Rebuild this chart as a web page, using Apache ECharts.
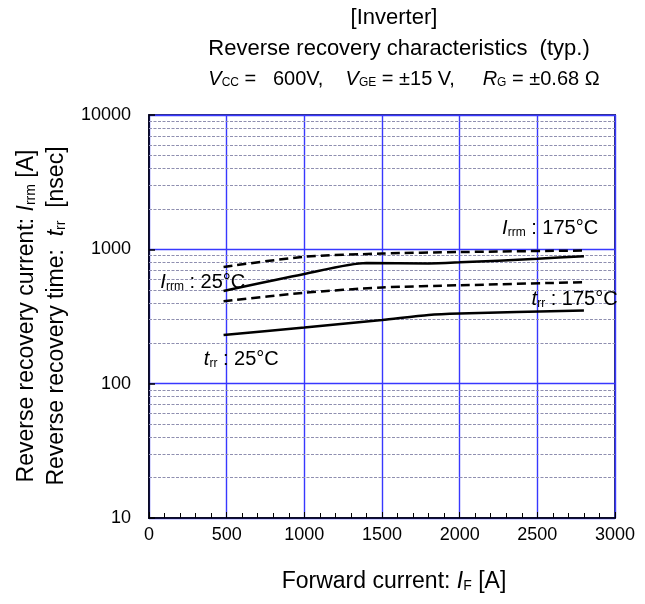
<!DOCTYPE html>
<html><head><meta charset="utf-8">
<script src="https://cdn.jsdelivr.net/npm/echarts@6/dist/echarts.min.js"></script>
<style>html,body{margin:0;padding:0;background:#fff}#c{width:645px;height:604px}</style>
</head><body><div id="c"></div>
<script>
// ---- data ----
const xTickLabels = [0, 500, 1000, 1500, 2000, 2500, 3000];
const yTickLabels = [10, 100, 1000, 10000];
const minorGridValues = [20,30,40,50,60,70,80,90,200,300,400,500,600,700,800,900,2000,3000,4000,5000,6000,7000,8000,9000];

const irrm175X = [480, 1000, 1500, 2000, 2800];
const irrm175Y = [740, 880, 930, 955, 980];
const irrm25X  = [480, 1000, 1400, 1800, 2000, 2500, 2800];
const irrm25Y  = [490, 655, 790, 785, 800, 850, 890];
const trr175X  = [480, 1000, 1500, 2000, 2800];
const trr175Y  = [410, 475, 520, 540, 570];
const trr25X   = [480, 1000, 1500, 1800, 2000, 2800];
const trr25Y   = [230, 262, 298, 325, 333, 350];

const labelIrrm175 = [2270, 1480];
const labelIrrm25  = [70, 588];
const labelTrr175  = [2460, 440];
const labelTrr25   = [350, 156];

// ---- chart ----
const FONT = '"Liberation Sans", Arial, sans-serif';
const zip = (xs, ys) => xs.map((x, i) => [x, ys[i]]);
const chart = echarts.init(document.getElementById('c'), null, {renderer: 'canvas'});

function rich(size) {
  return {
    n: {fontFamily: FONT, fontSize: size, color: '#000', lineHeight: size + 4, verticalAlign: 'bottom'},
    i: {fontFamily: FONT, fontSize: size, color: '#000', fontStyle: 'italic', lineHeight: size + 4, verticalAlign: 'bottom'},
    s: {fontFamily: FONT, fontSize: Math.round(size * 0.62), color: '#000', lineHeight: size, verticalAlign: 'bottom'}
  };
}
const richAxis = rich(23);
const richAnn = rich(20);

function annot(coord, text) {
  return {
    coord: coord, symbol: 'circle', symbolSize: 1,
    itemStyle: {color: 'rgba(0,0,0,0)'},
    label: {show: true, position: 'right', distance: 0, formatter: text, rich: richAnn}
  };
}

const lineBase = (data, dashed) => ({
  type: 'line', data: data, symbol: 'none', smooth: 0.25, silent: true,
  lineStyle: {color: '#000', width: 2.5, type: dashed ? [9, 5] : 'solid'}, z: 5
});

const option = {
  animation: false,
  backgroundColor: '#fff',
  grid: {left: 149, right: 30, top: 115, bottom: 86, show: true, borderColor: '#2e2e7a', borderWidth: 2},
  xAxis: {
    type: 'value', min: 0, max: 3000, interval: 500,
    axisLine: {show: true, lineStyle: {color: '#000', width: 1.5}},
    axisTick: {show: true, inside: true, length: 6, lineStyle: {color: '#000'}},
    minorTick: {show: true, splitNumber: 5, length: 5, lineStyle: {color: '#000'}},
    splitLine: {show: true, lineStyle: {color: '#3838ff', width: 1.4}},
    axisLabel: {fontFamily: FONT, fontSize: 18, color: '#000', margin: 8,
      formatter: v => xTickLabels.includes(v) ? String(v) : ''}
  },
  yAxis: {
    type: 'log', logBase: 10, min: 10, max: 10000,
    axisLine: {show: true, lineStyle: {color: '#000', width: 1.5}},
    axisTick: {show: true, inside: true, length: 6, lineStyle: {color: '#000', width: 1.5}},
    splitLine: {show: true, lineStyle: {color: '#3838ff', width: 1.4}},
    axisLabel: {fontFamily: FONT, fontSize: 18, color: '#000', margin: 18,
      formatter: v => yTickLabels.includes(Math.round(v)) ? String(Math.round(v)) : ''}
  },
  series: [
    {
      type: 'line', data: [], silent: true, z: 1,
      markLine: {
        silent: true, symbol: 'none', label: {show: false},
        lineStyle: {color: '#8f8fb0', width: 1.2, type: [3, 1.5]},
        data: minorGridValues.map(v => ({yAxis: v}))
      }
    },
    Object.assign(lineBase(zip(irrm175X, irrm175Y), true), {
      markPoint: {silent: true, data: [annot(labelIrrm175, '{i|I}{s|rrm}{n| : 175°C}')]}
    }),
    Object.assign(lineBase(zip(irrm25X, irrm25Y), false), {
      markPoint: {silent: true, data: [annot(labelIrrm25, '{i|I}{s|rrm}{n| : 25°C}')]}
    }),
    Object.assign(lineBase(zip(trr175X, trr175Y), true), {
      markPoint: {silent: true, data: [annot(labelTrr175, '{i|t}{s|rr}{n| : 175°C}')]}
    }),
    Object.assign(lineBase(zip(trr25X, trr25Y), false), {
      markPoint: {silent: true, data: [annot(labelTrr25, '{i|t}{s|rr}{n| : 25°C}')]}
    })
  ],
  graphic: [
    {type: 'text', style: {x: 394, y: 18, align: 'center', verticalAlign: 'middle',
      text: '[Inverter]', font: '22px ' + FONT, fill: '#000'}},
    {type: 'text', style: {x: 399, y: 49, align: 'center', verticalAlign: 'middle',
      text: 'Reverse recovery characteristics  (typ.)', font: '22px ' + FONT, fill: '#000'}},
    {type: 'text', style: {x: 404, y: 77, align: 'center', verticalAlign: 'middle',
      text: '{i|V}{s|CC}{n| =   600V,    }{i|V}{s|GE}{n| = ±15 V,     }{i|R}{s|G}{n| = ±0.68 Ω}', rich: rich(20)}},
    {type: 'text', rotation: Math.PI / 2, x: 25, y: 316, style: {x: 0, y: 0, align: 'center', verticalAlign: 'middle',
      text: '{n|Reverse recovery current: }{i|I}{s|rrm}{n| [A]}', rich: richAxis}},
    {type: 'text', rotation: Math.PI / 2, x: 55, y: 316, style: {x: 0, y: 0, align: 'center', verticalAlign: 'middle',
      text: '{n|Reverse recovery time:  }{i|t}{s|rr}{n|  [nsec]}', rich: richAxis}},
    {type: 'text', style: {x: 394, y: 580, align: 'center', verticalAlign: 'middle',
      text: '{n|Forward current: }{i|I}{s|F}{n| [A]}', rich: richAxis}}
  ]
};
chart.setOption(option);
</script>
</body></html>
